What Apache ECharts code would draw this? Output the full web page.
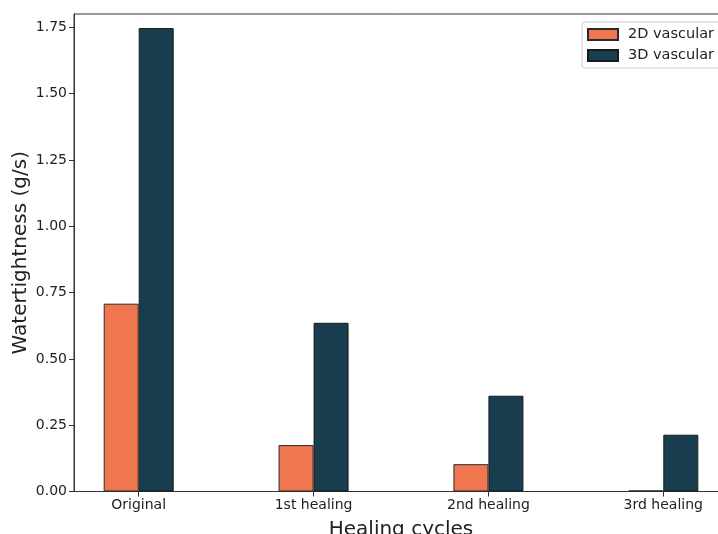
<!DOCTYPE html>
<html>
<head>
<meta charset="utf-8">
<script src="https://cdn.jsdelivr.net/npm/echarts@6/dist/echarts.min.js"></script>
<style>html,body{margin:0;padding:0;background:#fff;}#c{width:718px;height:534px;}</style>
</head>
<body>
<div id="c"></div>
<script>
const categories = ['Original', '1st healing', '2nd healing', '3rd healing'];
const vascular2D = [0.708, 0.175, 0.103, 0.004];
const vascular3D = [1.747, 0.636, 0.361, 0.214];
const yTicks = [0, 0.25, 0.5, 0.75, 1.0, 1.25, 1.5, 1.75];

const font = 'DejaVu Sans';
const chart = echarts.init(document.getElementById('c'), null, {renderer: 'canvas'});
chart.setOption({
  animation: false,
  backgroundColor: '#fff',
  textStyle: {fontFamily: font},
  grid: {left: 74, right: -10, top: 14, bottom: 42.5, show: true, borderColor: '#333', borderWidth: 1,
    containLabel: false, outerBoundsMode: 'none'},
  legend: {
    left: 582, top: 22, orient: 'vertical',
    padding: [5, 14, 5, 5],
    icon: 'rect',
    itemWidth: 30, itemHeight: 11, itemGap: 6,
    borderColor: '#ccc', borderWidth: 1, borderRadius: 3,
    textStyle: {fontFamily: font, fontSize: 14.5, lineHeight: 14, color: '#222', padding: [0, 0, 0, 5]},
    data: ['2D vascular', '3D vascular']
  },
  xAxis: {
    type: 'value', min: -0.37, max: 3.37,
    name: 'Healing cycles', nameLocation: 'middle', nameGap: 28, nameMoveOverlap: false,
    nameTextStyle: {fontFamily: font, fontSize: 20, color: '#222'},
    splitLine: {show: false},
    axisLine: {show: true, onZero: false, lineStyle: {color: '#333', width: 1}},
    axisTick: {show: true, customValues: [0, 1, 2, 3], length: 5, lineStyle: {color: '#333'}},
    axisLabel: {customValues: [0, 1, 2, 3], fontFamily: font, fontSize: 14, color: '#222', margin: 7,
      formatter: v => categories[Math.round(v)] || ''}
  },
  yAxis: {
    type: 'value', min: 0, max: 1.8,
    name: 'Watertightness (g/s)', nameLocation: 'middle', nameGap: 43, nameMoveOverlap: false,
    nameTextStyle: {fontFamily: font, fontSize: 20, color: '#222'},
    splitLine: {show: false},
    axisLine: {show: true, onZero: false, lineStyle: {color: '#333', width: 1}},
    axisTick: {show: true, customValues: yTicks, length: 5, lineStyle: {color: '#333'}},
    axisLabel: {customValues: yTicks, fontFamily: font, fontSize: 14, color: '#222', margin: 7,
      formatter: v => v.toFixed(2)}
  },
  series: [
    {
      name: '2D vascular', type: 'bar', barWidth: 35, barGap: '0%',
      itemStyle: {color: '#F0764F', borderColor: '#2a2a2a', borderWidth: 1},
      data: vascular2D.map((v, i) => [i, v])
    },
    {
      name: '3D vascular', type: 'bar', barWidth: 35, barGap: '0%',
      itemStyle: {color: '#173D4E', borderColor: '#1a1a1a', borderWidth: 1},
      data: vascular3D.map((v, i) => [i, v])
    }
  ]
});
</script>
</body>
</html>
